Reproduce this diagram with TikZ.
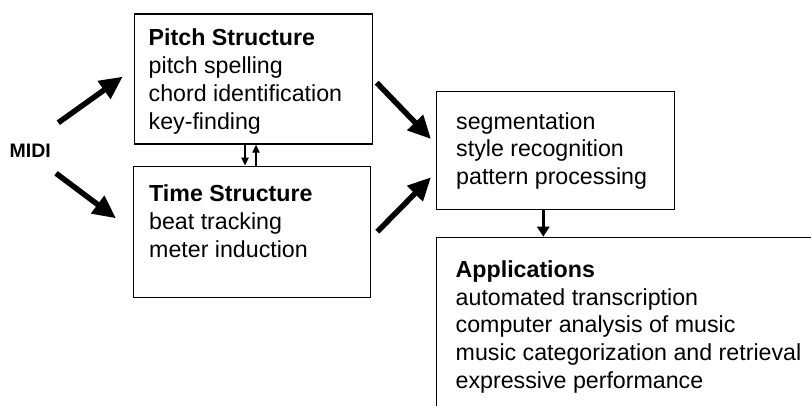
\documentclass[tikz,border=0pt]{standalone}
\usepackage{fontspec}
\setmainfont{Liberation Sans}
\usetikzlibrary{arrows.meta}
\begin{document}
\begin{tikzpicture}[x=1pt,y=-1pt,
  box/.style={draw=black,line width=1.2pt,rectangle,inner sep=0pt,anchor=north west},
  txt/.style={anchor=north west,inner sep=0pt,align=left,font=\fontsize{23.2}{27.7}\selectfont},
  bigarrow/.style={line width=5.5pt,-{Triangle[length=23pt,width=21pt]}},
  smallarrow/.style={line width=2pt,-{Triangle[length=8pt,width=7pt]}},
  midarrow/.style={line width=3pt,-{Triangle[length=10pt,width=12pt]}}]
\useasboundingbox (0,0) rectangle (811,405);
\clip (0,0) rectangle (811,405);
% boxes
\node[box,minimum width=238pt,minimum height=130pt] (pitch) at (134,13.3) {};
\node[box,minimum width=237pt,minimum height=131pt] (time) at (133,165.7) {};
\node[box,minimum width=238pt,minimum height=118pt] (seg) at (436,91) {};
\node[box,minimum width=420pt,minimum height=220pt] (app) at (436,236.7) {};
% texts
\node[txt] (pitchtxt) at (148.5,28.7) {\rule{0pt}{17pt}\textbf{Pitch Structure}\\pitch spelling\\chord identification\\key-finding};
\node[txt] (timetxt) at (149,184.7) {\rule{0pt}{17pt}\textbf{Time Structure}\\beat tracking\\meter induction};
\node[txt] (segtxt) at (456,112) {\rule{0pt}{17pt}segmentation\\style recognition\\pattern processing};
\node[txt] (apptxt) at (455.5,260.3) {\rule{0pt}{17pt}\textbf{Applications}\\automated transcription\\computer analysis of music\\music categorization and retrieval\\expressive performance};
\node[anchor=base west,inner sep=0pt,font=\fontsize{19.5}{23}\selectfont\bfseries] (midi) at (9.5,157.3) {MIDI};
% big arrows
\coordinate (a1) at (58.3,122.7); \coordinate (b1) at (122.7,76.7);
\coordinate (a2) at (56,173.3);   \coordinate (b2) at (116,218.3);
\coordinate (a3) at (376.7,82.7); \coordinate (b3) at (431,139);
\coordinate (a4) at (377.3,231.7);\coordinate (b4) at (431,177.3);
\draw[bigarrow] (a1) -- (b1);
\draw[bigarrow] (a2) -- (b2);
\draw[bigarrow] (a3) -- (b3);
\draw[bigarrow] (a4) -- (b4);
% small arrows
\coordinate (xdown) at (245,0);
\coordinate (xup) at (256,0);
\coordinate (xapp) at (543.3,0);
\draw[smallarrow] (pitch.south -| xdown) -- (time.north -| xdown);
\draw[smallarrow] (time.north -| xup) -- (pitch.south -| xup);
\draw[midarrow] (seg.south -| xapp) -- (app.north -| xapp);
\end{tikzpicture}
\end{document}
